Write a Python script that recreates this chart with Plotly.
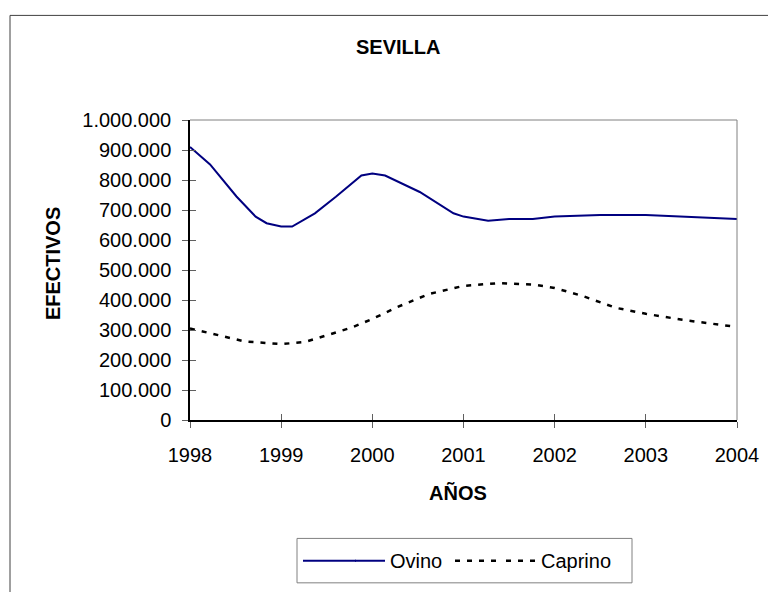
import plotly.graph_objects as go

# Data
ovino_x = [1998.00, 1998.22, 1998.51, 1998.72, 1998.84, 1999.00, 1999.12, 1999.37, 1999.60, 1999.88,
           2000.00, 2000.14, 2000.52, 2000.89, 2001.00, 2001.27, 2001.50, 2001.76, 2002.00, 2002.50,
           2003.00, 2003.40, 2004.00]
ovino_y = [910000, 852000, 745000, 678000, 656000, 645000, 645000, 689000, 744000, 815000,
           822000, 815000, 760000, 689000, 678000, 664000, 670000, 670000, 678000, 683000,
           683000, 678000, 670000]

caprino_x = [1998.00, 1998.29, 1998.60, 1999.00, 1999.26, 1999.54, 1999.79, 2000.00, 2000.27, 2000.62,
             2001.00, 2001.38, 2001.78, 2002.00, 2002.30, 2002.67, 2003.00, 2003.40, 2004.00]
caprino_y = [305000, 284000, 262000, 253000, 260000, 286000, 310000, 337000, 376000, 420000,
             447000, 456000, 451000, 440000, 414000, 374000, 354000, 334000, 310000]

year_ticks = [1998, 1999, 2000, 2001, 2002, 2003, 2004]
y_ticks = [0, 100000, 200000, 300000, 400000, 500000, 600000, 700000, 800000, 900000, 1000000]

FONT = "Liberation Sans, Arial, sans-serif"
FS = 20
OVINO_COLOR = "#000080"
CAPRINO_COLOR = "#000000"
CAPRINO_DASH = "5px,7px"

# the page body adds an 8px margin, so the figure is laid out 8px up/left
OFF = 8
W, H = 776 - OFF, 592 - OFF
PLOT_L, PLOT_R, PLOT_T, PLOT_B = 190 - OFF, 737 - OFF, 120 - OFF, 424 - OFF
L, R, T, B = PLOT_L, W - PLOT_R, PLOT_T, H - PLOT_B
PW, PH = W - L - R, H - T - B


def px_x(p):
    return (p - OFF - L) / PW


def px_y(p):
    return (H - B - (p - OFF)) / PH


LEG_Y = 566.5

fig = go.Figure()
fig.add_trace(go.Scatter(x=ovino_x, y=ovino_y, mode="lines", name="Ovino",
                         line=dict(color=OVINO_COLOR, width=2)))
fig.add_trace(go.Scatter(x=caprino_x, y=caprino_y, mode="lines", name="Caprino",
                         line=dict(color=CAPRINO_COLOR, width=2.5, dash=CAPRINO_DASH)))
# empty trace that carries the overlay axes (inside half of the crossing tick marks)
fig.add_trace(go.Scatter(x=[], y=[], xaxis="x2", yaxis="y2", showlegend=False, hoverinfo="skip"))

axis_common = dict(showgrid=False, zeroline=False, tickcolor="#606060", tickwidth=1)

fig.update_layout(
    width=W, height=H,
    margin=dict(l=L, r=R, t=T, b=B),
    paper_bgcolor="white", plot_bgcolor="white",
    separators=",.",
    font=dict(family=FONT, size=FS, color="black"),
    showlegend=True,
    legend=dict(orientation="h", x=px_x(350), y=px_y(LEG_Y), xanchor="left", yanchor="middle",
                bordercolor="rgba(0,0,0,0)", borderwidth=0, bgcolor="rgba(0,0,0,0)",
                font=dict(size=FS), entrywidth=106, entrywidthmode="pixels",
                itemwidth=30, tracegroupgap=0),
    xaxis=dict(range=[1998, 2004], tickvals=year_ticks, ticktext=[str(v) for v in year_ticks],
               showline=True, linecolor="black", linewidth=2,
               ticks="outside", ticklen=6, ticklabelstandoff=10, **axis_common),
    yaxis=dict(range=[0, 1000000], tickvals=y_ticks, tickformat=",.0f",
               showline=True, linecolor="black", linewidth=1.5,
               ticks="outside", ticklen=6, ticklabelstandoff=7, **axis_common),
    xaxis2=dict(range=[1998, 2004], tickvals=year_ticks, overlaying="x", anchor="y",
                showticklabels=False, showline=False, ticks="inside", ticklen=6, **axis_common),
    yaxis2=dict(range=[0, 1000000], tickvals=y_ticks, overlaying="y", anchor="x",
                showticklabels=False, showline=False, ticks="inside", ticklen=6, **axis_common),
    annotations=[
        dict(text="<b>SEVILLA</b>", xref="paper", yref="paper", x=px_x(398), y=px_y(46),
             xanchor="center", yanchor="middle", showarrow=False, font=dict(size=FS)),
        dict(text="<b>EFECTIVOS</b>", xref="paper", yref="paper", x=px_x(53), y=px_y(266),
             xanchor="center", yanchor="middle", textangle=-90, showarrow=False, font=dict(size=FS)),
        dict(text="<b>AÑOS</b>", xref="paper", yref="paper", x=px_x(458), y=px_y(498),
             xanchor="center", yanchor="middle", showarrow=False, font=dict(size=FS)),
    ],
    shapes=[
        dict(type="rect", xref="paper", yref="paper", x0=px_x(10), x1=px_x(770), y0=px_y(620), y1=px_y(14),
             line=dict(color="#404040", width=1), fillcolor="rgba(0,0,0,0)", layer="below"),
        dict(type="line", xref="paper", yref="paper", x0=0, x1=1, y0=1, y1=1,
             line=dict(color="#808080", width=1)),
        dict(type="line", xref="paper", yref="paper", x0=1, x1=1, y0=0, y1=1,
             line=dict(color="#808080", width=1)),
        # legend frame
        dict(type="rect", xref="paper", yref="paper", x0=px_x(297), x1=px_x(632), y0=px_y(589), y1=px_y(544),
             line=dict(color="#808080", width=1), fillcolor="rgba(0,0,0,0)", layer="above"),
        # longer legend samples, as in the reference
        dict(type="line", xref="paper", yref="paper", x0=px_x(303), x1=px_x(356),
             y0=px_y(LEG_Y), y1=px_y(LEG_Y), line=dict(color=OVINO_COLOR, width=2)),
        dict(type="line", xref="paper", yref="paper", x0=px_x(455), x1=px_x(502),
             y0=px_y(LEG_Y), y1=px_y(LEG_Y), line=dict(color=CAPRINO_COLOR, width=2.5, dash=CAPRINO_DASH)),
    ],
)

fig.write_html("out.html")
